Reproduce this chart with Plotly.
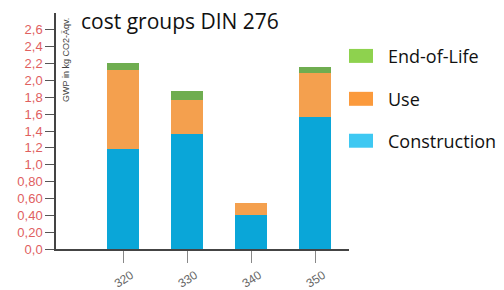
import plotly.graph_objects as go

categories = ["320", "330", "340", "350"]
construction = [1.19, 1.37, 0.40, 1.57]
use = [0.93, 0.40, 0.15, 0.52]
end_of_life = [0.09, 0.11, 0.0, 0.07]

series_names = ["Construction", "Use", "End-of-Life"]
bar_colors = ["#0aa6d8", "#f4a04e", "#6fad50"]
legend_colors = ["#3ec8f2", "#fb9a3c", "#8ed24e"]

y_tickvals = [0, 0.2, 0.4, 0.6, 0.8, 1.0, 1.2, 1.4, 1.6, 1.8, 2.0, 2.2, 2.4, 2.6]
y_ticktext = ["0,0", "0,20", "0,40", "0,60", "0,80", "1,0", "1,2", "1,4", "1,6", "1,8", "2,0", "2,2", "2,4", "2,6"]

# page body has an 8px default margin; positions below are page pixels
OFF = 8
W, H = 504, 290
PL, PR, PT, PB = 56, 349, 13, 249.5   # plot area on the page
L, T = PL - OFF, PT - OFF
R = W - (PR - OFF)
B = H - (PB - OFF)
pw, ph = W - L - R, H - T - B

def px(x):
    return (x - PL) / pw

def py(y):
    return (PB - y) / ph

xs = list(range(len(categories)))
fig = go.Figure()
for name, vals, col in zip(series_names, [construction, use, end_of_life], bar_colors):
    fig.add_trace(go.Bar(x=xs, y=vals, name=name, marker=dict(color=col, line=dict(width=0)),
                         width=0.5, showlegend=False))

fig.update_layout(
    barmode="stack",
    width=W, height=H,
    margin=dict(l=L, r=R, t=T, b=B, pad=0),
    plot_bgcolor="white", paper_bgcolor="white",
    font=dict(family="Liberation Sans, Arial, sans-serif"),
    xaxis=dict(range=[-1.05, 3.53], tickvals=xs, ticktext=categories, tickangle=-33,
               showgrid=False, zeroline=False, showline=True, linecolor="#444", linewidth=1.5,
               ticks="outside", ticklen=12, tickcolor="#888", tickwidth=1, automargin=False,
               ticklabelstandoff=1, ticklabelshift=8,
               tickfont=dict(size=12, color="#666")),
    yaxis=dict(range=[0, 2.8], tickvals=y_tickvals, ticktext=y_ticktext,
               showgrid=False, zeroline=False, showline=True, linecolor="#444", linewidth=1.5,
               ticks="outside", ticklen=9, tickcolor="#555", tickwidth=1, automargin=False,
               tickfont=dict(size=13, color="#e0605f")),
)

annotations = [
    dict(text="cost groups DIN 276", xref="paper", yref="paper", x=px(79), y=py(21),
         xanchor="left", yanchor="middle", showarrow=False,
         font=dict(family="Open Sans, sans-serif", size=21, color="#111")),
    dict(text="GWP in kg CO2-Äqv.", xref="paper", yref="paper", x=px(66), y=py(60),
         xanchor="center", yanchor="middle", textangle=-90, showarrow=False,
         font=dict(size=9, color="#444")),
]
shapes = []
legend_y = {"End-of-Life": 56, "Use": 99, "Construction": 141}
for name, col in zip(series_names, legend_colors):
    yc = legend_y[name]
    shapes.append(dict(type="rect", xref="paper", yref="paper",
                       x0=px(349), x1=px(373), y0=py(yc - 7), y1=py(yc + 7),
                       fillcolor=col, line=dict(width=0)))
    annotations.append(dict(text=name, xref="paper", yref="paper", x=px(386), y=py(yc),
                            xanchor="left", yanchor="middle", showarrow=False,
                            font=dict(family="Open Sans, sans-serif", size=18, color="#111")))
fig.update_layout(annotations=annotations, shapes=shapes)

fig.write_html("out.html")
